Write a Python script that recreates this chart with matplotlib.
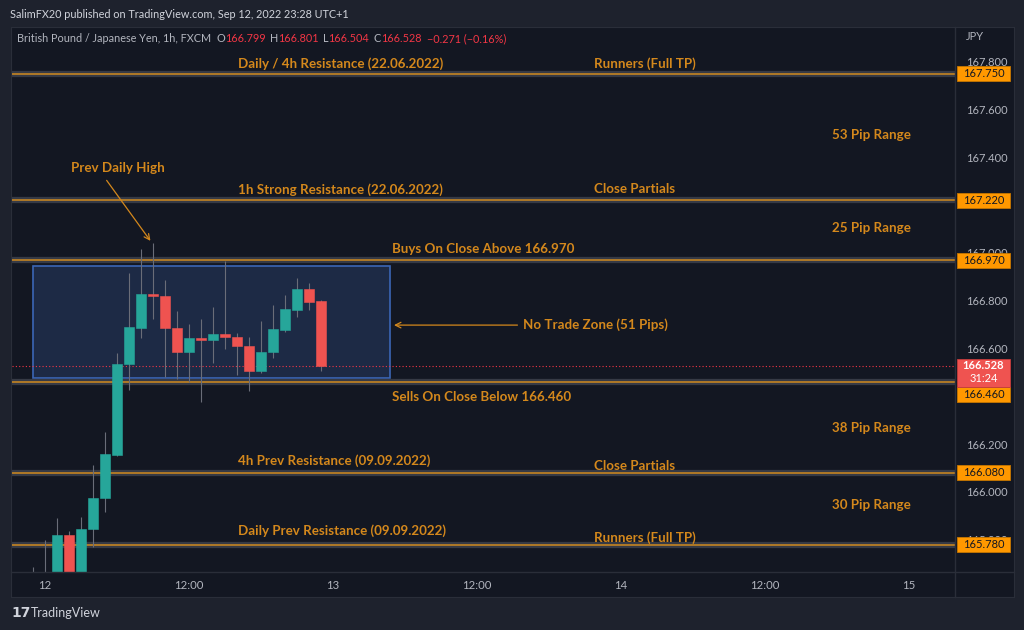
import matplotlib
matplotlib.use("Agg")
import matplotlib.pyplot as plt
import matplotlib.transforms as mtrans
from matplotlib.patches import Rectangle

# GBPJPY 1h candles, hour offset from 12 Sep 00:00
hours = list(range(-1, 24))
opens = [165.550, 165.600, 165.620, 165.819, 165.630, 165.845, 165.974, 166.154, 166.535,
         166.685, 166.828, 166.819, 166.685, 166.585, 166.644, 166.635, 166.660, 166.648,
         166.610, 166.506, 166.585, 166.677, 166.761, 166.849, 166.799]
highs = [165.685, 165.799, 165.890, 165.836, 165.895, 166.112, 166.250, 166.581, 166.916,
         167.016, 167.041, 166.886, 166.757, 166.702, 166.723, 166.773, 166.966, 166.665,
         166.648, 166.715, 166.782, 166.824, 166.895, 166.874, 166.801]
lows = [165.500, 165.550, 165.580, 165.600, 165.600, 165.769, 165.916, 166.150, 166.426,
        166.644, 166.723, 166.480, 166.472, 166.460, 166.376, 166.539, 166.598, 166.489,
        166.422, 166.497, 166.560, 166.669, 166.732, 166.761, 166.504]
closes = [165.600, 165.640, 165.819, 165.630, 165.845, 165.974, 166.158, 166.535, 166.690,
          166.828, 166.819, 166.685, 166.585, 166.644, 166.635, 166.660, 166.648, 166.610,
          166.506, 166.585, 166.681, 166.765, 166.849, 166.794, 166.528]

levels = [167.750, 167.220, 166.970, 166.460, 166.080, 165.780]
level_tags = ["167.750", "167.220", "166.970", "166.460", "166.080", "165.780"]
last_price = 166.528
countdown = "31:24"

zone_start, zone_end = -1, 28.75
zone_low, zone_high = 166.476, 166.945

price_ticks = [167.8, 167.6, 167.4, 167.0, 166.8, 166.6, 166.2, 166.0, 165.8]
time_ticks = [0, 12, 24, 36, 48, 60, 72]
time_labels = ["12", "12:00", "13", "12:00", "14", "12:00", "15"]

# text notes: (hour, price, text)
notes = [
    (16.1, 167.790, "Daily / 4h Resistance (22.06.2022)"),
    (45.75, 167.790, "Runners (Full TP)"),
    (65.6, 167.493, "53 Pip Range"),
    (16.1, 167.263, "1h Strong Resistance (22.06.2022)"),
    (45.75, 167.267, "Close Partials"),
    (65.6, 167.104, "25 Pip Range"),
    (28.9, 167.016, "Buys On Close Above 166.970"),
    (28.9, 166.397, "Sells On Close Below 166.460"),
    (65.6, 166.267, "38 Pip Range"),
    (16.1, 166.129, "4h Prev Resistance (09.09.2022)"),
    (45.75, 166.108, "Close Partials"),
    (65.6, 165.945, "30 Pip Range"),
    (16.1, 165.836, "Daily Prev Resistance (09.09.2022)"),
    (45.75, 165.807, "Runners (Full TP)"),
]

BG_OUT = "#1e222d"
BG = "#131722"
UP = "#26a69a"
DOWN = "#ef5350"
ORANGE = "#d4881c"
AXIS_TXT = "#b2b5be"
FONT = "Lato"

plt.rcParams["font.family"] = [FONT, "DejaVu Sans"]

W, H = 1024, 630
fig = plt.figure(figsize=(W / 100, H / 100), dpi=100, facecolor=BG_OUT)


def fr(x0, y0, x1, y1):
    return [x0 / W, 1 - y1 / H, (x1 - x0) / W, (y1 - y0) / H]


# pane background incl. price and time scales
bgax = fig.add_axes(fr(11, 27, 1014, 597))
bgax.set_facecolor(BG)
bgax.set_xticks([])
bgax.set_yticks([])
for s in bgax.spines.values():
    s.set_color("#2a2e39")
bgax.set_zorder(-1)
fig.add_artist(plt.Line2D([955 / W, 955 / W], [1 - 597 / H, 1 - 27 / H], color="#2a2e39", lw=1))
fig.add_artist(plt.Line2D([11 / W, 1014 / W], [1 - 572 / H, 1 - 572 / H], color="#2a2e39", lw=1))

ax = fig.add_axes(fr(12, 28, 955, 572))
ax.set_facecolor(BG)
ax.patch.set_alpha(0)
ax.set_xlim(-2.75, 75.83)
ax.set_ylim(165.665, 167.941)
for s in ax.spines.values():
    s.set_visible(False)

# no trade zone box
ax.add_patch(Rectangle((zone_start, zone_low), zone_end - zone_start, zone_high - zone_low,
                       facecolor="#1d2a45", edgecolor="#3b66b5", lw=1.2, zorder=1))

# level lines
for lv in levels:
    ax.axhline(lv, color="#363a45", lw=4.5, zorder=2)
    ax.axhline(lv, color="#d08a1e", lw=1.1, zorder=2.1)

# last price dotted line
ax.axhline(last_price, color="#f23645", lw=0.8, ls=(0, (1, 2)), zorder=2.2)

# candles
for h, o, hi, lo, c in zip(hours, opens, highs, lows, closes):
    col = UP if c >= o else DOWN
    ax.vlines(h, lo, hi, color="#6a6d78", lw=0.8, zorder=3)
    body = max(abs(c - o), 0.008)
    ax.bar(h, body, bottom=min(o, c), width=0.78, color=col, edgecolor=col, lw=0.4, zorder=4)

# notes
nkw = dict(color=ORANGE, fontsize=9.6, fontweight="bold", ha="left", va="center", zorder=6)
for x, y, t in notes:
    ax.text(x, y, t, **nkw)

ax.annotate("", xy=(8.92, 167.041), xytext=(5.0, 167.313),
            arrowprops=dict(arrowstyle="->", color=ORANGE, lw=0.9), zorder=6)
ax.text(2.17, 167.355, "Prev Daily High", **nkw)
ax.annotate("", xy=(28.85, 166.698), xytext=(39.6, 166.698),
            arrowprops=dict(arrowstyle="->", color=ORANGE, lw=0.9), zorder=6)
ax.text(39.85, 166.698, "No Trade Zone (51 Pips)", **nkw)

# time axis
ax.set_xticks(time_ticks)
ax.set_xticklabels(time_labels)
ax.tick_params(axis="x", length=0, pad=6, colors=AXIS_TXT, labelsize=8.2)

# price axis
ax.yaxis.tick_right()
ax.set_yticks(price_ticks)
ax.set_yticklabels([f"{p:.3f}" for p in price_ticks])
ax.tick_params(axis="y", length=0, pad=8, colors=AXIS_TXT, labelsize=8.0)

tr = mtrans.blended_transform_factory(ax.transAxes, ax.transData)
px = (ax.get_ylim()[1] - ax.get_ylim()[0]) / 544.0
bx0, bw = (957 - 12) / 943, 53 / 943
bxc = (983.5 - 12) / 943
for lv, tag in zip(levels, level_tags):
    yc = lv
    if tag == "166.460":
        yc = lv - 13 * px  # pushed down by last price label
    ax.add_patch(Rectangle((bx0, yc - 7.5 * px), bw, 15 * px, transform=tr, clip_on=False,
                           facecolor="#ff9800", edgecolor="#c77700", lw=0.6, zorder=10))
    ax.text(bxc, yc, tag, transform=tr, color="#131722", fontsize=8.0, ha="center",
            va="center", zorder=11, clip_on=False)
ax.add_patch(Rectangle((bx0, last_price - 21 * px), bw, 28 * px, transform=tr, clip_on=False,
                       facecolor="#ef5350", edgecolor="#c43c3c", lw=0.6, zorder=10))
ax.text(bxc, last_price, f"{last_price:.3f}", transform=tr, color="white", fontsize=8.0,
        fontweight="bold", ha="center", va="center", zorder=11, clip_on=False)
ax.text(bxc, last_price - 13 * px, countdown, transform=tr, color="white", fontsize=8.0,
        ha="center", va="center", zorder=11, clip_on=False)

fig.text(966 / W, 1 - 37 / H, "JPY", color=AXIS_TXT, fontsize=8.0, va="center")

# header
fig.text(10 / W, 1 - 14 / H, "SalimFX20 published on TradingView.com, Sep 12, 2022 23:28 UTC+1",
         color="#d1d4dc", fontsize=7.8, va="center")
parts = [("British Pound / Japanese Yen, 1h, FXCM", AXIS_TXT, 0),
         ("O", AXIS_TXT, 4), ("166.799", "#f23645", 0),
         ("H", AXIS_TXT, 3), ("166.801", "#f23645", 0),
         ("L", AXIS_TXT, 3), ("166.504", "#f23645", 0),
         ("C", AXIS_TXT, 3), ("166.528", "#f23645", 0),
         ("\u22120.271 (\u22120.16%)", "#f23645", 4)]
prev = fig.text(17 / W, 1 - 39 / H, parts[0][0], color=parts[0][1], fontsize=7.8, va="center")
for t, col, gap in parts[1:]:
    prev = plt.annotate(t, xy=(1, 0.5), xycoords=prev, xytext=(gap, 0),
                        textcoords="offset points", color=col, fontsize=7.8,
                        va="center", ha="left", annotation_clip=False)

# footer
fig.text(11 / W, 1 - 613 / H, "17", color="#d1d4dc", fontsize=10, fontweight="bold",
         family="DejaVu Sans", va="center")
fig.text(31 / W, 1 - 613 / H, "TradingView", color="#d1d4dc", fontsize=9, va="center")

fig.savefig("out.png", dpi=100, facecolor=BG_OUT)
